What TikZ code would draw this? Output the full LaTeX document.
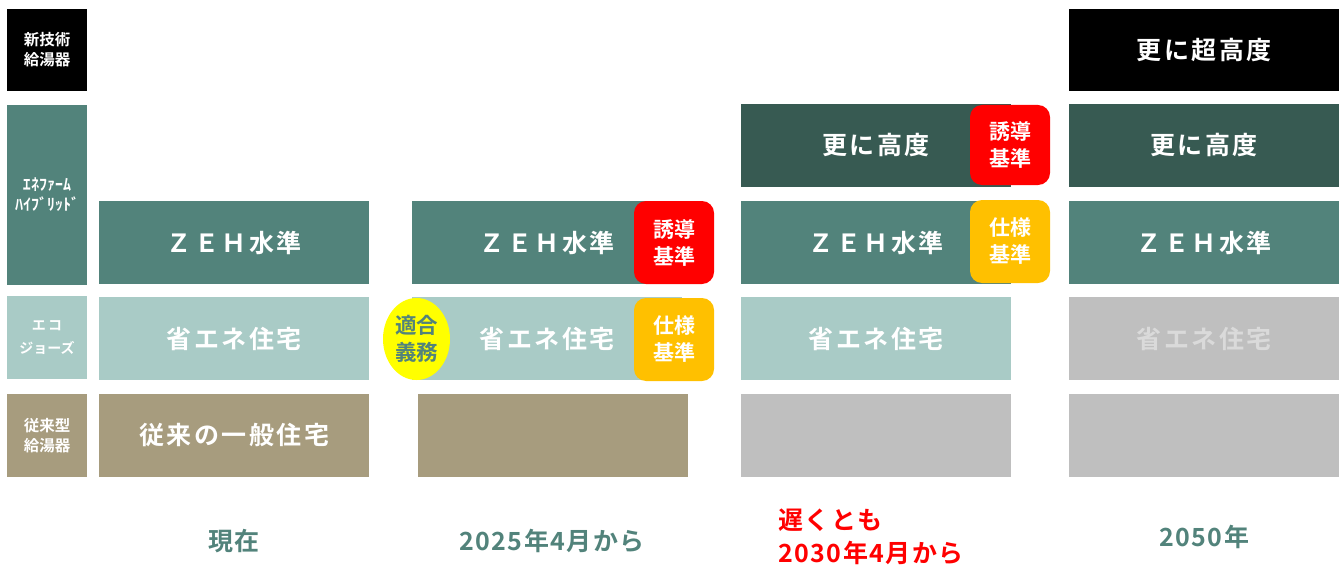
\documentclass[tikz,border=0pt]{standalone}
\usepackage{fontspec}
\setmainfont{Noto Sans CJK JP}[BoldFont={Noto Sans CJK JP Bold}]
\usetikzlibrary{shapes.geometric}
\definecolor{cteal}{HTML}{52837B}
\definecolor{cdark}{HTML}{375A52}
\definecolor{clight}{HTML}{A9CBC6}
\definecolor{ctan}{HTML}{A79C7E}
\definecolor{cgray}{HTML}{BFBFBF}
\definecolor{cgraytext}{HTML}{DADADA}
\definecolor{cred}{HTML}{FF0000}
\definecolor{corange}{HTML}{FFC000}
\definecolor{cyellow}{HTML}{FFFF00}
\tikzset{
  box/.style={rectangle, inner sep=0pt, minimum width=270pt, minimum height=83pt, text=white, font=\bfseries\fontsize{25}{26}\selectfont\addfontfeature{LetterSpace=10}},
  lab/.style={rectangle, inner sep=0pt, minimum width=80pt, text=white, align=center, font=\bfseries\fontsize{15.5}{20}\selectfont},
  badge/.style={rectangle, rounded corners=12pt, inner sep=0pt, minimum width=80pt, minimum height=83pt, text=white, align=center, font=\bfseries\fontsize{21}{27}\selectfont},
  bottom/.style={inner sep=0pt, font=\bfseries\fontsize{25}{33}\selectfont\addfontfeature{LetterSpace=6}},
}
\newcommand{\zeh}{ＺＥＨ水準}
\begin{document}
\begin{tikzpicture}[x=1pt,y=-1pt]
\useasboundingbox (0,0) rectangle (1340,567);
% left labels
\node[lab, fill=black, minimum height=82pt] (l1) at (47,50) {新技術\\給湯器};
\node[lab, fill=cteal, minimum height=180pt, font=\bfseries\fontsize{16}{20}\selectfont] (l2) at (47,195) {ｴﾈﾌｧｰﾑ\\ﾊｲﾌﾞﾘｯﾄﾞ};
\node[lab, fill=clight, minimum height=83pt, font=\bfseries\fontsize{14}{23}\selectfont] (l3) at (47,337.5) {エ\,コ\\ジョーズ};
\node[lab, fill=ctan, minimum height=83pt] (l4) at (47,435.5) {従来型\\給湯器};
% column 1
\node[box, fill=cteal] (a1) at (234,242.5) {\zeh};
\node[box, fill=clight] (a2) at (234,338.5) {省エネ住宅};
\node[box, fill=ctan] (a3) at (234,435.5) {従来の一般住宅};
% column 2
\node[box, fill=cteal] (b1) at (547,242.5) {\zeh};
\node[box, fill=clight] (b2) at (547,338.5) {省エネ住宅};
\node[box, fill=ctan] (b3) at (553,435.5) {};
\node[badge, fill=cred] (b1b) at (674,242.5) {誘導\\基準};
\node[badge, fill=corange] (b2b) at (674,339.5) {仕様\\基準};
\node[ellipse, fill=cyellow, inner sep=0pt, minimum width=67pt, minimum height=82pt, text=cteal, align=center, font=\bfseries\fontsize{21.5}{27}\selectfont] (b2e) at (416.5,339) {適合\\義務};
% column 3
\node[box, fill=cdark] (c0) at (876,145.5) {更に高度};
\node[box, fill=cteal] (c1) at (876,242.5) {\zeh};
\node[box, fill=clight] (c2) at (876,338.5) {省エネ住宅};
\node[box, fill=cgray] (c3) at (876,435.5) {};
\node[badge, fill=cred, minimum height=80pt] (c0b) at (1010,145) {誘導\\基準};
\node[badge, fill=corange] (c1b) at (1010,241.5) {仕様\\基準};
% column 4
\node[box, fill=black, minimum height=82pt] (d0) at (1204,50) {更に超高度};
\node[box, fill=cdark] (d1) at (1204,145.5) {更に高度};
\node[box, fill=cteal] (d2) at (1204,242.5) {\zeh};
\node[box, fill=cgray, text=cgraytext] (d3) at (1204,338.5) {省エネ住宅};
\node[box, fill=cgray] (d4) at (1204,435.5) {};
% bottom labels
\node[bottom, text=cteal] (t1) at (234,541) {現在};
\node[bottom, text=cteal] (t2) at (552,541) {2025年4月から};
\node[bottom, text=cred, align=left, anchor=west] (t3) at (778,537) {遅くとも\\2030年4月から};
\node[bottom, text=cteal] (t4) at (1204,537) {2050年};
\end{tikzpicture}
\end{document}
